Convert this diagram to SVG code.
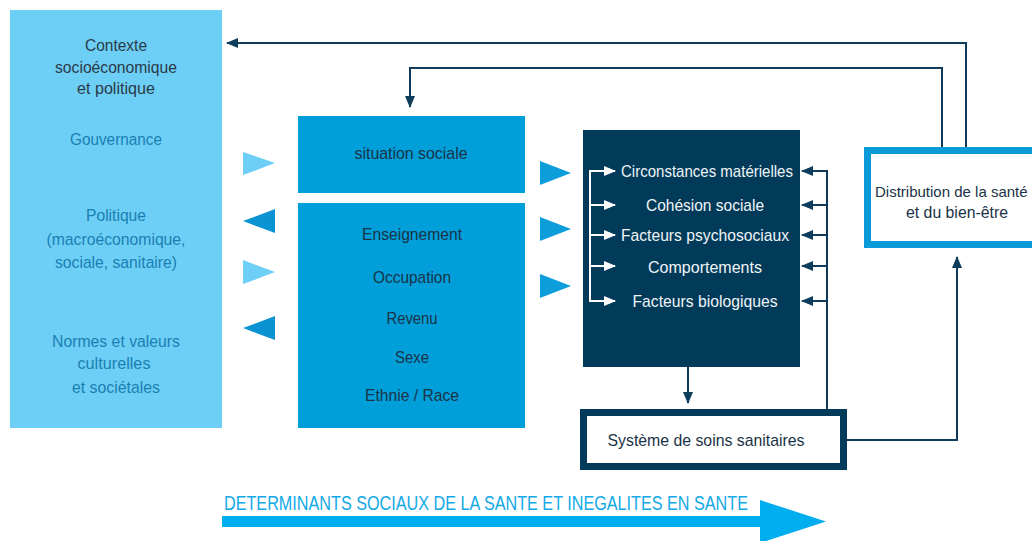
<svg xmlns="http://www.w3.org/2000/svg" width="1032" height="541" viewBox="0 0 1032 541">
<style>
text{font-family:"Liberation Sans",Arial,sans-serif;font-size:17px;text-anchor:middle}
.ctx{fill:#2a3b48}
.lt{fill:#1a80b2}
.mid{fill:#1a3347}
.wt{fill:#eef4f7}
.ln{fill:none;stroke:#0d3d5a;stroke-width:2}
.wl{fill:none;stroke:#ffffff;stroke-width:2}
.tl{fill:#6dcff6}
.td{fill:#0a93d3}
.tm{fill:#0c9dda}
</style>
<defs>
<marker id="ah" markerUnits="userSpaceOnUse" markerWidth="12" markerHeight="10" refX="11" refY="5" orient="auto"><path d="M0,0 L12,5 L0,10 Z" fill="#0d3d5a"/></marker>
<marker id="aw" markerUnits="userSpaceOnUse" markerWidth="12" markerHeight="10" refX="11" refY="5" orient="auto"><path d="M0,0 L12,5 L0,10 Z" fill="#ffffff"/></marker>
</defs>
<rect width="1032" height="541" fill="#ffffff"/>

<g id="contexte">
<rect x="10" y="10" width="212" height="418" fill="#6dcff6"/>
<text class="ctx" x="116" y="51" textLength="62" lengthAdjust="spacingAndGlyphs">Contexte</text>
<text class="ctx" x="116" y="73" textLength="122" lengthAdjust="spacingAndGlyphs">socioéconomique</text>
<text class="ctx" x="116" y="94" textLength="78" lengthAdjust="spacingAndGlyphs">et politique</text>
<text class="lt" x="116" y="145" textLength="92" lengthAdjust="spacingAndGlyphs">Gouvernance</text>
<text class="lt" x="116" y="221" textLength="60" lengthAdjust="spacingAndGlyphs">Politique</text>
<text class="lt" x="116" y="245" textLength="139" lengthAdjust="spacingAndGlyphs">(macroéconomique,</text>
<text class="lt" x="116" y="268" textLength="122" lengthAdjust="spacingAndGlyphs">sociale, sanitaire)</text>
<text class="lt" x="116" y="347" textLength="128" lengthAdjust="spacingAndGlyphs">Normes et valeurs</text>
<text class="lt" x="114" y="369" textLength="73" lengthAdjust="spacingAndGlyphs">culturelles</text>
<text class="lt" x="116" y="393" textLength="88" lengthAdjust="spacingAndGlyphs">et sociétales</text>
</g>

<g id="situation-sociale">
<rect x="298" y="116" width="227" height="77" fill="#009fda"/>
<text class="mid" x="411" y="159" textLength="113" lengthAdjust="spacingAndGlyphs">situation sociale</text>
</g>

<g id="stratification">
<rect x="298" y="203" width="227" height="225" fill="#009fda"/>
<text class="mid" x="412" y="240" textLength="100" lengthAdjust="spacingAndGlyphs">Enseignement</text>
<text class="mid" x="412" y="283" textLength="78" lengthAdjust="spacingAndGlyphs">Occupation</text>
<text class="mid" x="412" y="324" textLength="51" lengthAdjust="spacingAndGlyphs">Revenu</text>
<text class="mid" x="412" y="363" textLength="34" lengthAdjust="spacingAndGlyphs">Sexe</text>
<text class="mid" x="412" y="401" textLength="94" lengthAdjust="spacingAndGlyphs">Ethnie / Race</text>
</g>

<g id="determinants-intermediaires">
<rect x="583" y="130" width="217" height="237" fill="#023b59"/>
<text class="wt" x="707" y="177" textLength="172" lengthAdjust="spacingAndGlyphs">Circonstances matérielles</text>
<text class="wt" x="705" y="211" textLength="118" lengthAdjust="spacingAndGlyphs">Cohésion sociale</text>
<text class="wt" x="705" y="241" textLength="168" lengthAdjust="spacingAndGlyphs">Facteurs psychosociaux</text>
<text class="wt" x="705" y="273" textLength="114" lengthAdjust="spacingAndGlyphs">Comportements</text>
<text class="wt" x="705" y="307" textLength="145" lengthAdjust="spacingAndGlyphs">Facteurs biologiques</text>
<path class="wl" d="M590,171 V301"/>
<path class="wl" d="M589,171 H615" marker-end="url(#aw)"/>
<path class="wl" d="M589,205 H615" marker-end="url(#aw)"/>
<path class="wl" d="M589,235 H615" marker-end="url(#aw)"/>
<path class="wl" d="M589,266 H615" marker-end="url(#aw)"/>
<path class="wl" d="M589,301 H615" marker-end="url(#aw)"/>
</g>

<g id="systeme-soins">
<rect x="583.5" y="412.5" width="260" height="54" fill="#ffffff" stroke="#023b59" stroke-width="7"/>
<text class="mid" x="706" y="446" textLength="197" lengthAdjust="spacingAndGlyphs">Système de soins sanitaires</text>
</g>

<g id="distribution">
<rect x="867.5" y="150.5" width="180" height="94" fill="#ffffff" stroke="#0a9ad8" stroke-width="7"/>
<text class="mid" x="875" y="197" style="text-anchor:start;font-size:15px">Distribution de la santé</text>
<text class="mid" x="957" y="218" textLength="102" lengthAdjust="spacingAndGlyphs">et du bien-être</text>
</g>

<g id="connectors">
<path class="ln" d="M966,147 V43 H227" marker-end="url(#ah)"/>
<path class="ln" d="M942,147 V68 H410 V107" marker-end="url(#ah)"/>
<path class="ln" d="M688,367 V403" marker-end="url(#ah)"/>
<path class="ln" d="M847,440 H957 V257" marker-end="url(#ah)"/>
<path class="ln" d="M827,409 V170"/>
<path class="ln" d="M828,171 H802" marker-end="url(#ah)"/>
<path class="ln" d="M828,205 H802" marker-end="url(#ah)"/>
<path class="ln" d="M828,235 H802" marker-end="url(#ah)"/>
<path class="ln" d="M828,266 H802" marker-end="url(#ah)"/>
<path class="ln" d="M828,301 H802" marker-end="url(#ah)"/>
<polygon class="tl" points="243,152 275,163 243,175"/>
<polygon class="td" points="275,209 243,221 275,233"/>
<polygon class="tl" points="243,260 275,272 243,284"/>
<polygon class="td" points="275,316 243,328 275,340"/>
<polygon class="tm" points="540,161 571,173 540,185"/>
<polygon class="tm" points="540,217 571,229 540,241"/>
<polygon class="tm" points="540,274 571,286 540,298"/>
</g>

<g id="axe">
<text x="224" y="510" style="text-anchor:start;font-size:20px;fill:#12a9e6" textLength="524" lengthAdjust="spacingAndGlyphs">DETERMINANTS SOCIAUX DE LA SANTE ET INEGALITES EN SANTE</text>
<rect x="222" y="516" width="540" height="11" fill="#00aeef"/>
<polygon points="760,500 826,521.5 760,543" fill="#00aeef"/>
</g>
</svg>
